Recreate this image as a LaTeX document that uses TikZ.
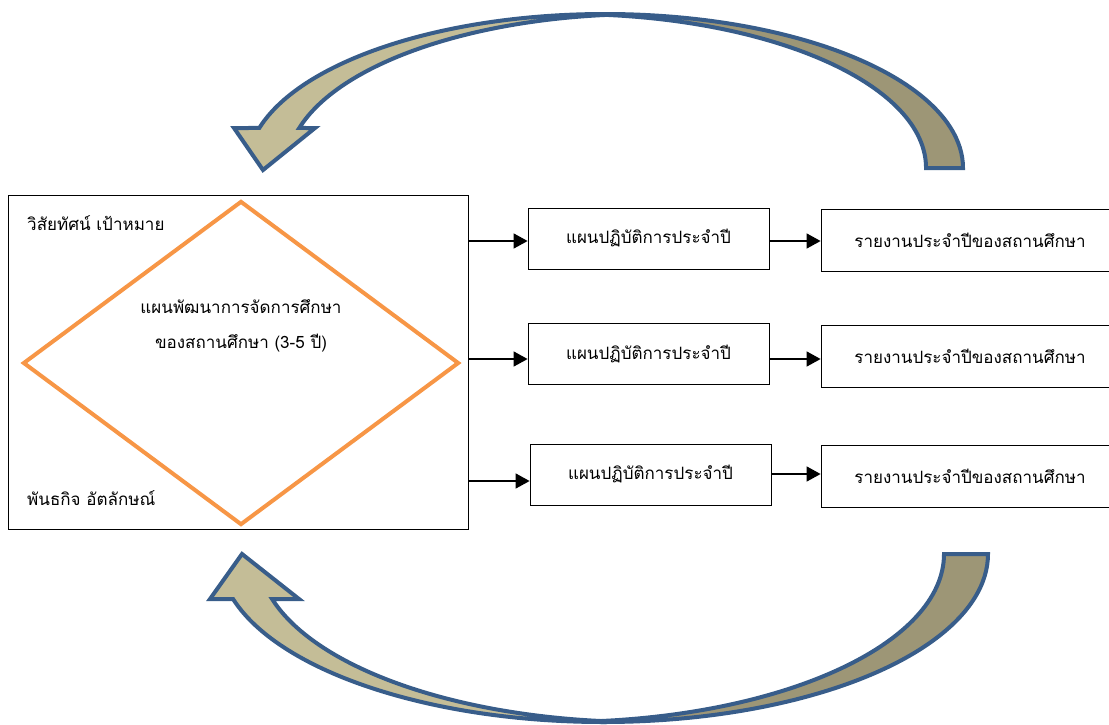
\documentclass[tikz,border=0pt]{standalone}
\usepackage{fontspec}
\usepackage{xcolor}
\usepackage{tikz}
\usetikzlibrary{shapes.geometric, arrows.meta, positioning}
\newfontfamily\thaifont[Script=Thai]{Loma}
\definecolor{edgeblue}{RGB}{56,93,138}
\definecolor{lighttan}{RGB}{196,189,151}
\definecolor{darktan}{RGB}{157,150,118}
\definecolor{planorange}{RGB}{247,150,70}
\tikzset{
    thaitext/.style={
        font=\thaifont\fontsize{17}{20}\selectfont,
        inner sep=0pt
    },
    bigframe/.style={
        rectangle,
        draw=black,
        line width=1pt,
        minimum width=460,
        minimum height=334
    },
    plandiamond/.style={
        diamond,
        draw=planorange,
        line width=4pt,
        minimum width=436,
        minimum height=324,
        inner sep=0pt
    },
    planbox/.style={
        rectangle,
        draw=black,
        line width=0.8pt,
        minimum width=241,
        minimum height=61,
        thaitext
    },
    reportbox/.style={
        rectangle,
        draw=black,
        line width=0.8pt,
        minimum width=298,
        minimum height=62,
        thaitext
    },
    flow/.style={
        draw=black,
        line width=1.5pt,
        -{Triangle[length=14pt,width=15pt]}
    },
    backband/.style={
        fill=darktan,
        draw=edgeblue,
        line width=4pt
    },
    frontband/.style={
        fill=lighttan,
        draw=edgeblue,
        line width=4pt
    }
}

\begin{document}
\begin{tikzpicture}[x=1pt,y=-1pt]
\useasboundingbox (0,0) rectangle (1109,724);
\clip (0,0) rectangle (1109,724);

% Frame and diamond
\node[bigframe] (frame) at (238,362) {};
\node[plandiamond] (devplan) at (241,363) {};
\node[thaitext, align=center] (devtext) at (241,326)
    {แผนพัฒนาการจัดการศึกษา\\[15pt]ของสถานศึกษา (3-5 ปี)};
\node[thaitext, anchor=west] (vision) at (27,223) {วิสัยทัศน์ เป้าหมาย};
\node[thaitext, anchor=west] (mission) at (27,498) {พันธกิจ อัตลักษณ์};

% Yearly plans
\node[planbox] (plan1) at (648.5,238.5) {แผนปฏิบัติการประจำปี};
\node[planbox] (plan2) at (648.5,354) {แผนปฏิบัติการประจำปี};
\node[planbox] (plan3) at (650.5,474.5) {แผนปฏิบัติการประจำปี};

% Yearly reports
\node[reportbox] (report1) at (970,240) {รายงานประจำปีของสถานศึกษา};
\node[reportbox] (report2) at (970,356) {รายงานประจำปีของสถานศึกษา};
\node[reportbox] (report3) at (970,476) {รายงานประจำปีของสถานศึกษา};

% Connections
\draw[flow] (frame.east |- 0,241) -- ([yshift=-2.5pt]plan1.west);
\draw[flow] (frame.east |- 0,359) -- ([yshift=-5pt]plan2.west);
\draw[flow] (frame.east |- 0,481) -- ([yshift=-6.5pt]plan3.west);
\draw[flow] ([yshift=-2.5pt]plan1.east) -- ([yshift=-1pt]report1.west);
\draw[flow] ([yshift=-5pt]plan2.east) -- ([yshift=-3pt]report2.west);
\draw[flow] ([yshift=0.5pt]plan3.east) -- ([yshift=2pt]report3.west);

% Curved arrow, top
\coordinate (topc) at (605,168);
\path[backband] (topc) ++(0:358 and 154)
    arc[start angle=0, end angle=-92.96, x radius=358, y radius=154]
    arc[start angle=-87.04, end angle=0, x radius=358, y radius=154] -- cycle;
\path[frontband] (topc) ++(-164.94:358 and 154)
    arc[start angle=-164.94, end angle=-86.8, x radius=358, y radius=154]
    arc[start angle=-93.2, end angle=-164.94, x radius=358, y radius=154]
    -- (315,128) -- (263,170) -- (234,128) -- cycle;

% Curved arrow, bottom
\coordinate (botc) at (603.5,554);
\path[backband] (botc) ++(0:384.5 and 168)
    arc[start angle=0, end angle=93.28, x radius=384.5, y radius=168]
    arc[start angle=86.72, end angle=0, x radius=384.5, y radius=168] -- cycle;
\path[frontband] (botc) ++(164.46:384.5 and 168)
    arc[start angle=164.46, end angle=87.09, x radius=384.5, y radius=168]
    arc[start angle=92.91, end angle=164.46, x radius=384.5, y radius=168]
    -- (299,599) -- (242,554) -- (210,599) -- cycle;

\end{tikzpicture}
\end{document}
